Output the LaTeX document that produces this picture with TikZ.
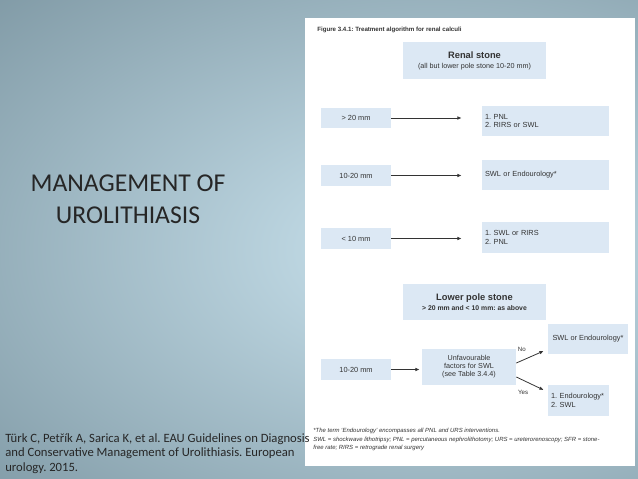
\documentclass[tikz,border=0pt]{standalone}
\usepackage{fontspec}
\setmainfont{Liberation Sans}
\newfontfamily\calibri{Carlito}
\usetikzlibrary{arrows.meta}
\frenchspacing

\definecolor{bgdark}{HTML}{627C88}
\definecolor{bglight}{HTML}{CBE4EF}
\definecolor{boxblue}{HTML}{DCE8F4}
\definecolor{ink}{HTML}{333333}

\begin{document}
\begin{tikzpicture}[x=0.02cm,y=-0.02cm,
  box/.style={fill=boxblue,inner sep=0pt,font=\fontsize{4.2}{5.1}\selectfont,text=ink},
  res/.style={box,minimum width=2.54cm,minimum height=0.6cm,text width=2.42cm,inner xsep=0.06cm,align=left},
  arr/.style={-{Latex[length=2.4pt,width=2pt]},line width=0.45pt,draw=ink}]
\useasboundingbox (0,0) rectangle (638,479);
\begin{scope}
\clip (0,0) rectangle (638,479);
\fill[bgdark] (0,0) rectangle (638,479);
\shade[inner color=bglight,outer color=bgdark] (430,250) ellipse (860 and 520);
\end{scope}
\fill[white] (305,18) rectangle (635,466);

\node[font=\calibri\fontsize{14.6}{18.1}\selectfont,text=black!85,align=center] (title) at (128,199) {MANAGEMENT OF\\UROLITHIASIS};
\node[anchor=north west,align=left,font=\calibri\fontsize{7.2}{8.3}\selectfont,text=black!85,inner sep=0pt] (cite) at (5,433) {Türk C, Petřík A, Sarica K, et al. EAU Guidelines on Diagnosis\\and Conservative Management of Urolithiasis. European\\urology. 2015.};

\node[anchor=west,inner sep=0pt,font=\bfseries\fontsize{3.5}{4}\selectfont,text=ink] (cap) at (317,30) {Figure 3.4.1: Treatment algorithm for renal calculi};
\node[box,minimum width=2.86cm,minimum height=0.74cm,align=center,font=\fontsize{4.1}{5.7}\selectfont] (renal) at (474.5,60.5) {{\bfseries\fontsize{5.3}{6}\selectfont Renal stone}\\(all but lower pole stone 10-20 mm)};

\node[box,minimum width=1.4cm,minimum height=0.4cm] (gt20) at (356,118) {> 20 mm};
\node[res] (res1) at (545.5,121) {1. PNL\\2. RIRS or SWL};
\node[box,minimum width=1.4cm,minimum height=0.42cm] (mid) at (356,175.5) {10-20 mm};
\node[res] (res2) at (545.5,175) {SWL or Endourology*};
\node[box,minimum width=1.4cm,minimum height=0.42cm] (lt10) at (356,238.5) {< 10 mm};
\node[res,minimum height=0.62cm] (res3) at (545.5,237.5) {1. SWL or RIRS\\2. PNL};

\node[box,minimum width=2.86cm,minimum height=0.72cm,align=center,font=\bfseries\fontsize{3.9}{5.7}\selectfont] (lower) at (474.5,302) {{\fontsize{5.3}{6}\selectfont Lower pole stone}\\> 20 mm and < 10 mm: as above};
\node[box,minimum width=1.4cm,minimum height=0.42cm] (low) at (356,369.5) {10-20 mm};
\node[box,minimum width=1.88cm,minimum height=0.72cm,align=center,font=\fontsize{4.1}{4.6}\selectfont] (unfav) at (469,367) {Unfavourable\\factors for SWL\\(see Table 3.4.4)};
\node[box,minimum width=1.6cm,minimum height=0.6cm] (swl) at (588,339) {SWL or Endourology*};
\node[box,minimum width=1.22cm,minimum height=0.62cm,text width=1.1cm,align=left] (endo) at (578.5,400.5) {1. Endourology*\\2. SWL};

\draw[arr,shorten >=0.4cm] (gt20.east) -- (gt20.east -| res1.west);
\draw[arr,shorten >=0.4cm] (mid.east) -- (mid.east -| res2.west);
\draw[arr,shorten >=0.4cm] (lt10.east) -- (lt10.east -| res3.west);
\draw[arr,shorten >=0.04cm] (low.east) -- (low.east -| unfav.west);
\draw[arr] ([yshift=0.08cm]unfav.east) -- ([xshift=-0.08cm,yshift=-0.24cm]swl.west) node[pos=0.2,above=1.5pt,font=\fontsize{3.5}{4}\selectfont,text=ink] {No};
\draw[arr] ([yshift=-0.2cm]unfav.east) -- ([xshift=-0.08cm,yshift=0.21cm]endo.west) node[pos=0.25,below=2pt,font=\fontsize{3.5}{4}\selectfont,text=ink] {Yes};

\node[anchor=north west,align=left,inner sep=0pt,font=\itshape\fontsize{3.4}{4.9}\selectfont,text=ink] (note) at (313,428) {*The term ‘Endourology’ encompasses all PNL and URS interventions.\\SWL = shockwave lithotripsy; PNL = percutaneous nephrolithotomy; URS = ureterorenoscopy; SFR = stone-\\free rate; RIRS = retrograde renal surgery};
\end{tikzpicture}
\end{document}
